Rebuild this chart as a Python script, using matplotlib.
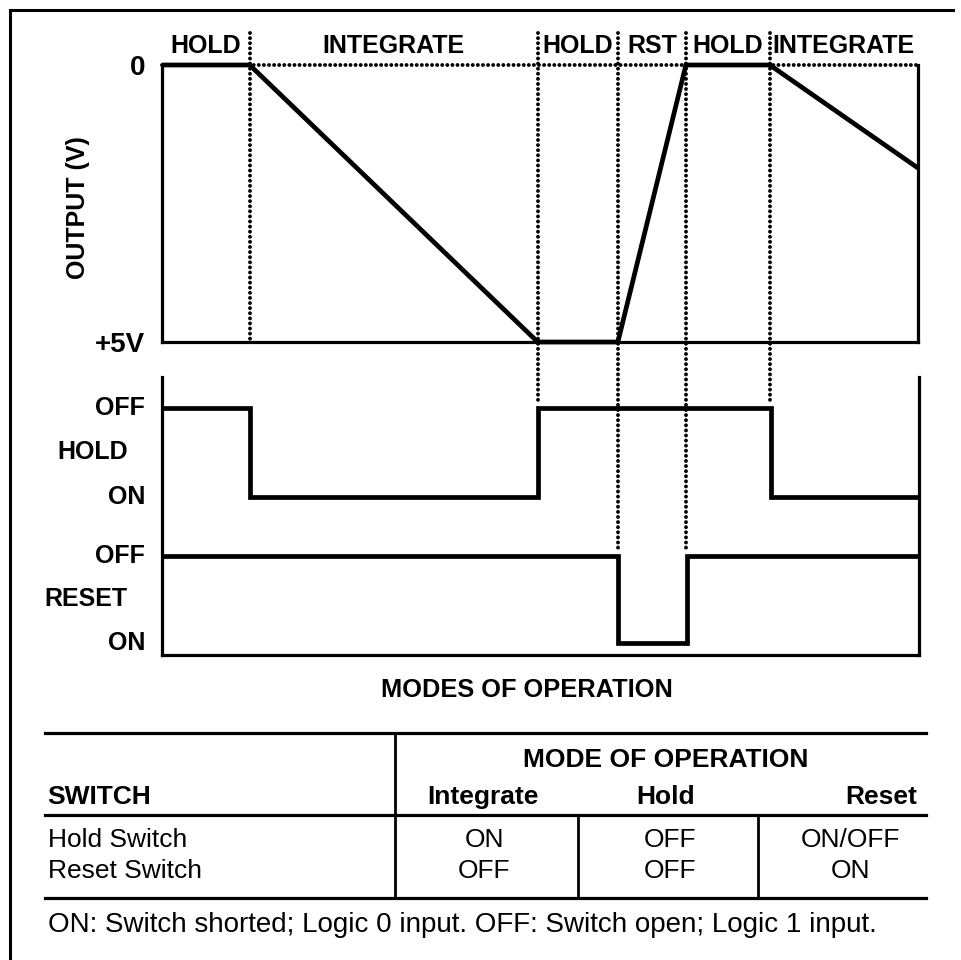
import matplotlib
matplotlib.use("Agg")
import matplotlib.pyplot as plt
from matplotlib.lines import Line2D
import matplotlib.transforms as mtransforms

plt.rcParams['font.family'] = ['Liberation Sans', 'DejaVu Sans']

# ---------------- data ----------------
# phase boundaries (time, arbitrary units 0..100)
phase_bounds = [0, 11.6, 49.7, 60.3, 69.3, 80.4, 100]
phase_labels = ["HOLD", "INTEGRATE", "HOLD", "RST", "HOLD", "INTEGRATE"]

# integrator output (V), plotted with inverted axis (0 at top, +5V at bottom)
out_t = [0, 11.6, 49.7, 60.3, 69.3, 80.4, 100]
out_v = [0, 0, 5, 5, 0, 0, 1.86]
out_ticks = [0, 5]
out_ticklabels = ["0", "+5V"]

# switch logic (1 = OFF, 0 = ON)
hold_t = [0, 11.6, 49.7, 80.4, 100]
hold_state = [1, 0, 1, 0, 0]
reset_t = [0, 60.3, 69.3, 100]
reset_state = [1, 0, 1, 1]

# table
table_switches = ["Hold Switch", "Reset Switch"]
table_modes = ["Integrate", "Hold", "Reset"]
table_states = [["ON", "OFF", "ON/OFF"],
                ["OFF", "OFF", "ON"]]
footnote = "ON: Switch shorted; Logic 0 input. OFF: Switch open; Logic 1 input."

# ---------------- layout helpers ----------------
W, H = 961, 960
fig = plt.figure(figsize=(W / 100, H / 100), dpi=100)
fig.patch.set_facecolor("white")


def rect(l, t, r, b):
    return [l / W, 1 - b / H, (r - l) / W, (b - t) / H]


def fx(px):
    return px / W


def fy(py):
    return 1 - py / H


K = "black"
LW_SIG = 3.4
LW_AX = 2.3
DOT = dict(color=K, lw=2.8, linestyle=(0, (0.01, 1.3)), dash_capstyle="round",
           solid_capstyle="round")

# ---------------- outer frame ----------------
fig.add_artist(Line2D([fx(10), fx(10)], [fy(10), fy(960)], color=K, lw=2.2))
fig.add_artist(Line2D([fx(10), fx(953)], [fy(10), fy(10)], color=K, lw=2.2))

# ---------------- output panel ----------------
ax1 = fig.add_axes(rect(162, 65, 918, 342))
ax1.set_xlim(0, 100)
ax1.set_ylim(5, 0)
ax1.axhline(0, xmin=0, xmax=1, **DOT, clip_on=False, zorder=1)
ax1.plot(out_t, out_v, color=K, lw=LW_SIG, solid_joinstyle="miter",
         solid_capstyle="butt", clip_on=False, zorder=3)
for s in ["left", "bottom", "right"]:
    ax1.spines[s].set_linewidth(LW_AX)
ax1.spines["top"].set_visible(False)
ax1.set_xticks([])
ax1.set_yticks(out_ticks)
ax1.set_yticklabels(out_ticklabels, fontsize=20, fontweight="bold")
ax1.tick_params(axis="y", length=0, pad=12)
fig.text(fx(78), fy(208), "OUTPUT (V)", rotation=90, ha="center", va="center",
         fontsize=18, fontweight="bold")

# ---------------- logic panel ----------------
ax2 = fig.add_axes(rect(162, 377, 919, 655))
ax2.set_xlim(0, 100)
ax2.set_ylim(-0.138, 3.057)
HOLD_OFFSET, HOLD_SCALE = 1.68, 1.02
ax2.step(hold_t, [HOLD_OFFSET + s * HOLD_SCALE for s in hold_state], where="post",
         color=K, lw=LW_SIG, solid_joinstyle="miter")
ax2.step(reset_t, reset_state, where="post", color=K, lw=LW_SIG,
         solid_joinstyle="miter")
for s in ["left", "bottom", "right"]:
    ax2.spines[s].set_linewidth(LW_AX)
ax2.spines["top"].set_visible(False)
ax2.set_xticks([])
ax2.set_yticks([])

lab = dict(fontsize=18, fontweight="bold", ha="right", va="center")
ytr = ax2.get_yaxis_transform()
ax2.text(-0.022, HOLD_OFFSET + HOLD_SCALE, "OFF", transform=ytr, **lab)
ax2.text(-0.045, HOLD_OFFSET + HOLD_SCALE / 2, "HOLD", transform=ytr, **lab)
ax2.text(-0.022, HOLD_OFFSET, "ON", transform=ytr, **lab)
ax2.text(-0.022, 1, "OFF", transform=ytr, **lab)
ax2.text(-0.045, 0.5, "RESET", transform=ytr, **lab)
ax2.text(-0.022, 0, "ON", transform=ytr, **lab)

# ---------------- dotted phase boundaries ----------------
btrans = mtransforms.blended_transform_factory(ax1.transData, fig.transFigure)
bottoms = {11.6: 342, 49.7: 402, 60.3: 549, 69.3: 549, 80.4: 402}
for t in phase_bounds[1:-1]:
    fig.add_artist(Line2D([t, t], [fy(33), fy(bottoms[t])], transform=btrans, **DOT))

# phase labels
for i, name in enumerate(phase_labels):
    c = (phase_bounds[i] + phase_bounds[i + 1]) / 2
    ax1.text(c, fy(46), name, transform=btrans, ha="center", va="center",
             fontsize=18, fontweight="bold")

fig.text(fx(527), fy(690), "MODES OF OPERATION", ha="center", va="center",
         fontsize=18.3, fontweight="bold")

# ---------------- table ----------------
TL, TR = 45, 926
for yl in (733, 815, 898):
    fig.add_artist(Line2D([fx(TL), fx(TR)], [fy(yl), fy(yl)], color=K, lw=2.3))
fig.add_artist(Line2D([fx(395), fx(395)], [fy(733), fy(898)], color=K, lw=2.0))
for xv in (578, 758):
    fig.add_artist(Line2D([fx(xv), fx(xv)], [fy(815), fy(898)], color=K, lw=2.0))

fig.text(fx(666), fy(760), "MODE OF OPERATION", ha="center", va="center",
         fontsize=19, fontweight="bold")
fig.text(fx(47), fy(797), "SWITCH", ha="left", va="center", fontsize=19, fontweight="bold")
head_centers = [483, 666, 881]
for c, m in zip(head_centers, table_modes):
    fig.text(fx(c), fy(797), m, ha="center", va="center", fontsize=19, fontweight="bold")
col_centers = [484, 670, 850]
row_y = [840, 871]
for ry, sw, st in zip(row_y, table_switches, table_states):
    fig.text(fx(48), fy(ry), sw, ha="left", va="center", fontsize=19)
    for c, v in zip(col_centers, st):
        fig.text(fx(c), fy(ry), v, ha="center", va="center", fontsize=19)

fig.text(fx(48), fy(925), footnote, ha="left", va="center", fontsize=20)

fig.savefig("out.png", dpi=100, facecolor="white")
